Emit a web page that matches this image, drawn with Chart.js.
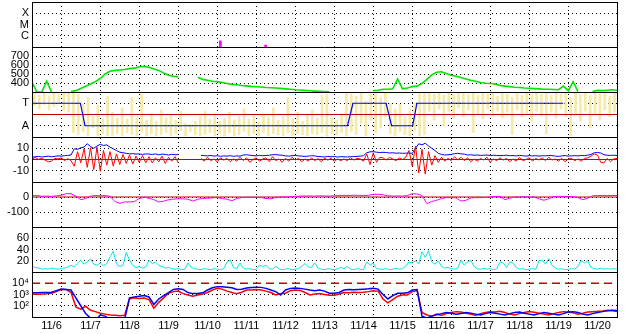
<!DOCTYPE html>
<html>
<head>
<meta charset="utf-8">
<script src="https://cdn.jsdelivr.net/npm/chart.js@4/dist/chart.umd.min.js"></script>
<style>
  html, body { margin: 0; padding: 0; background: #fff; }
  #marcoGrafica { width: 628px; height: 334px; }
</style>
</head>
<body>
<div id="marcoGrafica"><canvas id="grafica" width="628" height="334"></canvas></div>
<script>
// Eje de tiempo: dias desde 11/6 00:00
const dias = ['11/6', '11/7', '11/8', '11/9', '11/10', '11/11', '11/12', '11/13',
  '11/14', '11/15', '11/16', '11/17', '11/18', '11/19', '11/20'];
const paso3h = 1 / 8;
const paso2h = 1 / 12;

// Rayos X (fulguraciones)
const rayosXTiempo = [4.83, 5.99];
const rayosXFlujo = [3.5e-7, 1.5e-7];
const rayosXTicks = [1e-4, 1e-5, 1e-6];
const rayosXEtiquetas = ['X', 'M', 'C'];

// Velocidad del viento solar (cada 3 h)
const velocidad = [
  410, 300, 300, 420, 300, null, null, null,
  305, 315, 340, 365, 390, 415, 450, 500,
  530, 540, 545, 550, 560, 565, 580, 585,
  575, 555, 540, 510, 485, 475, 468, null,
  null, null, 465, 440, 430, 420, 415, 405,
  395, 385, 380, 372, 368, 362, 358, 355,
  350, 348, 345, 340, 335, 330, 325, 322,
  318, 314, 310, 307, 304, 302, null, null,
  null, null, null, null, null, null, 315, 320,
  330, 330, 335, 445, 335, 345, 360, 365,
  395, 440, 490, 520, 525, 505, 485, 475,
  460, 445, 430, 420, 405, 398, 395, 390,
  372, 365, 360, 352, 350, 345, 342, 338,
  335, 330, 330, 328, 325, 365, 315, 415,
  305, null, null, 305, 318, 315, 320, 325,
  320];
const velocidadTicks = [700, 600, 500, 400];

// Sector del campo (T / A)
const sectorTiempo = [0, 1.24, 1.36, 8.09, 8.23, 9.08, 9.22, 9.76, 9.87, 13.62];
const sectorValor = [1, 1, -1, -1, 1, 1, -1, -1, 1, 1];
const sectorTicks = [1, -1];
const sectorEtiquetas = ['T', 'A'];
// angulo phi (rango por intervalo de 3 h)
const phiMin = [
  0.8, 0.5, 0.9, 0.4, 0.7, 1.0, 0.4, 0.2,
  -1.6, -1.8, -1.5, -1.9, -1.2, -1.9, -1.7, -1.9,
  -1.9, -1.7, -1.9, -1.6, -1.8, -1.9, -1.5, -1.9,
  -1.7, -1.9, -1.8, -1.6, -1.9, -1.7, -1.4, -1.9,
  -1.5, -1.8, -1.9, -1.8, -1.6, -1.9, -1.7, -1.9,
  -1.6, -1.9, -1.8, -1.5, -1.9, -1.7, -1.9, -1.6,
  -1.9, -1.7, -1.8, -1.9, -1.6, -1.9, -1.7, -1.8,
  -1.9, -1.7, -1.8, -1.6, -1.9, -1.7, -1.8, -1.6,
  -1.9, -1.5, -1.8, -0.8, -1.9, -0.5, -1.6, -1.2,
  -0.2, -1.7, -1.9, -1.5, -1.8, -1.9, -1.4, -1.9,
  -1.8, 0.3, -0.5, 0.5, -1.0, 0.2, -0.3, 0.6,
  -0.2, 0.4, -1.6, 0.1, -0.4, 0.5, -0.1, 0.3,
  -0.3, 0.2, -1.8, 0.4, -0.2, 0.1, -0.6, 0.3,
  -0.1, -1.7, 0.2, -0.3, 0.5, -0.2, -1.9, 0.0,
  -0.6, 0.3, -1.2, 0.1, -0.5, 0.4, -0.2, 0.2];
const phiMax = [
  1.9, 1.7, 1.9, 1.6, 1.9, 1.8, 1.9, 1.9,
  1.9, 1.8, 0.9, 1.5, -0.2, 0.8, -0.4, 1.6,
  0.2, -0.3, 0.6, -0.4, 1.5, -0.2, 1.8, -0.5,
  0.1, -0.6, 0.4, -0.3, 0.0, -0.5, 0.3, -0.8,
  -0.9, -0.6, -0.2, 0.3, -0.4, 0.1, -0.6, -0.3,
  0.2, -0.5, -0.2, 0.5, -0.4, -0.1, -0.7, 0.0,
  -0.3, 0.6, -0.5, -0.2, 1.5, -0.4, 0.2, -0.6,
  -0.1, 0.4, -0.3, 1.7, 1.8, -0.3, -0.5, 0.1,
  1.9, 1.8, 1.6, 1.9, 1.2, 1.8, 1.9, 1.5,
  1.9, 1.0, 0.5, 0.9, -0.2, 0.3, 1.0, 1.9,
  1.9, 1.9, 1.8, 1.9, 1.7, 1.9, 1.8, 1.9,
  1.9, 1.8, 1.9, 1.7, 1.9, 1.8, 1.9, 1.6,
  1.9, 1.8, 1.5, 1.9, 1.7, 1.9, 1.8, 1.9,
  1.8, 1.9, 1.7, 1.9, 1.8, 1.9, 1.5, 1.9,
  1.8, 1.9, 1.7, 1.9, 1.8, 1.9, 1.6, 1.9];

// Campo magnetico Bt (azul) y Bz (rojo), cada 2 h
const bt = [
  2.0, 2.5, 2.8, 2.2, 2.6, 3.0, 2.4, 2.8, 3.2, 3.0, 3.4, 3.6,
  4.0, 9.5, 9.0, 10.5, 11.0, 14.0, 11.5, 10.0, 12.0, 13.5, 12.5, 13.0,
  11.0, 9.5, 8.0, 6.5, 6.0, 5.5, 5.0, 5.2, 4.8, 5.0, 4.5, 5.0,
  4.8, 4.5, 5.0, 4.2, 4.8, 4.5, 4.0, 4.6, 4.2, 4.4, null, null,
  null, null, null, null, 3.8, 3.5, 3.2, 3.6, 3.0, 3.4, 2.8, 3.2,
  3.0, 3.4, 2.8, 3.2, 3.0, 4.0, 4.2, 3.8, 3.5, 3.2, 3.6, 3.4,
  3.6, 3.8, 4.2, 4.4, 4.0, 3.8, 3.2, 3.0, 3.4, 3.6, 3.2, 3.0,
  2.8, 3.0, 3.4, 3.2, 2.6, 2.5, 2.2, 2.8, 2.4, 2.6, 2.2, 2.5,
  2.4, 2.2, 2.6, 2.5, 2.8, 3.0, 3.4, 6.0, 6.8, 7.0, 6.5, 6.2,
  6.4, 6.2, 5.8, 6.0, 5.6, 5.8, 5.5, 5.6, 5.8, 5.4, 10.0, 14.0,
  13.0, 14.5, 12.0, 10.0, 8.0, 5.5, 4.5, 4.0, 4.2, 4.5, 5.2, 5.5,
  5.0, 4.8, 4.0, 4.2, 3.8, 4.0, 3.6, 3.8, 4.0, 3.5, 3.8, 3.6,
  3.4, 3.6, 3.8, 3.4, 3.5, 3.2, 3.6, 3.4, 3.0, 3.5, 3.2, 3.4,
  3.0, 3.4, 3.2, 3.6, 3.4, 3.0, 2.8, 3.2, 3.5, 3.0, 3.2, 3.4,
  3.2, 3.6, 3.4, 3.8, 4.5, 6.0, 6.2, 5.8, 4.2, 3.8, 3.6, 3.8,
  3.6];
const bz = [
  0.5, 1.8, 0.2, 1.0, -0.5, -2.0, -1.5, 1.0, 0.5, 1.5, -1.0, 0.8,
  -1.0, -6.0, 7.0, -3.0, 9.5, -7.0, 10.5, -9.0, 11.0, -10.5, 8.0, -5.0,
  7.0, -6.0, 5.0, -4.5, 4.5, -3.5, 4.0, -4.0, 3.0, -2.5, 3.5, -3.0,
  2.5, -3.0, 1.5, -2.0, 3.0, -3.5, 2.0, -1.5, 2.5, -3.0, null, null,
  null, null, null, null, 1.0, -1.5, 2.0, -1.0, 0.5, -2.0, 1.5, -0.5,
  1.0, -2.0, 0.5, -1.5, 2.0, -1.0, 1.5, -2.5, 0.0, 1.5, -1.5, 0.5,
  1.5, -2.0, 2.5, -1.0, 0.5, -2.5, 1.0, -1.5, 2.0, -0.5, 1.0, -2.0,
  0.5, -1.5, 1.5, -1.0, 0.8, -2.0, 1.2, -0.5, 1.0, -1.5, 0.5, -1.0,
  0.5, -1.0, 1.5, -0.5, 1.0, 0.5, -1.5, 5.0, -4.5, 6.0, -2.5, 2.0,
  1.5, -0.5, 2.0, 0.5, -1.0, 1.5, 0.0, 2.0, 8.0, -6.0, 12.0, -12.0,
  9.0, -13.0, 7.0, -5.0, 3.5, -2.5, 2.0, -1.5, 1.0, -1.0, 2.5, -0.5,
  2.0, -1.0, 1.5, -2.0, 0.5, -1.5, 1.0, -0.5, 2.0, -2.5, 0.5, -1.0,
  1.5, -0.5, 1.0, -2.0, 0.5, -1.5, 2.0, -1.0, 0.0, 1.5, -1.5, 1.0,
  -0.5, 1.5, -1.0, 2.0, -0.5, 0.5, -1.5, 1.0, -2.0, 0.5, 1.0, -1.0,
  0.5, -1.5, 1.0, 1.5, 3.0, 5.0, 4.0, -2.5, -3.0, 1.0, -2.0, 0.5,
  1.0];
const campoTicks = [10, 0, -10];

// Indice Dst (cada 3 h)
const dst = [
  8, 10, 5, 6, 4, 8, 12, 22,
  22, 5, -18, -10, 6, 10, 8, 10,
  5, -30, -42, -33, -33, -30, -10, -2,
  -8, -18, -33, -28, -18, -14, -12, -12,
  -15, -27, -15, -10, -8, -6, -4, -10,
  -15, -25, -10, -4, -3, -2, -3, -4,
  -10, -12, -3, 0, 0, 2, 4, 6,
  7, 7, 6, 8, 7, 6, 8, 10,
  11, 10, 12, 11, 10, 11, 18, 18,
  15, 8, 6, 7, 6, 10, 22, 20,
  10, -44, -30, -22, -10, -4, -4, -6,
  -27, -22, -6, -4, -4, -3, 0, 4,
  4, -18, -8, 0, 0, 2, 0, 0,
  -12, -22, -12, 3, 4, 4, 3, 2,
  -5, -18, -8, 8, 10, 10, 9, 10,
  10];
const dstTicks = [0, -100];

// Densidad (cyan), cada 2 h
const densidad = [
  10, 8, 7, 5, 6, 5, 7, 6, 5, 6, 7, 9,
  12, 9, 15, 21, 14, 18, 23, 14, 12, 16, 11, 15,
  27, 37, 14, 10, 12, 35, 21, 12, 8, 10, 7, 9,
  21, 15, 18, 12, 10, 7, 8, 6, 5, 6, 4, 5,
  16, 8, 6, 5, 4, 6, 5, 4, 6, 5, 4, 6,
  18, 21, 8, 6, 16, 7, 5, 6, 4, 5, 12, 10,
  12, 6, 5, 10, 6, 4, 5, 6, 4, 5, 6, 10,
  15, 9, 8, 16, 7, 5, 4, 6, 5, 4, 6, 8,
  6, 10, 5, 4, 6, 5, 4, 18, 12, 16, 6, 5,
  5, 6, 4, 5, 7, 5, 6, 10, 18, 16, 20, 14,
  36, 26, 38, 18, 14, 20, 10, 7, 8, 6, 5, 7,
  21, 12, 18, 21, 10, 6, 5, 7, 5, 6, 4, 6,
  18, 16, 8, 18, 16, 8, 5, 6, 4, 5, 6, 5,
  20, 21, 14, 24, 12, 7, 5, 6, 4, 5, 6, 5,
  10, 21, 16, 20, 8, 6, 5, 7, 5, 6, 5, 6,
  5];
const densidadTicks = [60, 40, 20];

// Flujo de electrones (cada 3 h)
const electronesRojo = [
  1050, 1050, 1100, 1150, 1300, 1800, 2800, 2800,
  1500, 80, 50, 90, 40, 30, 22, 18,
  15, 14, 13, 14, 400, 500, 450, 480,
  350, 60, 200, 500, 1300, 1800, 2000, 1200,
  900, 700, 900, 1100, 1500, 2500, 3500, 3000,
  2000, 1500, 1200, 1600, 2500, 2500, 2800, 2500,
  2000, 1500, 900, 1200, 1300, 2200, 2500, 2300,
  1500, 900, 1100, 1200, 1000, 850, 850, 1100,
  1500, 1400, 1600, 1500, 1600, 1800, 2200, 2000,
  400, 180, 350, 700, 900, 900, 1800, 2200,
  25, 15, 12, 18, 14, 20, 25, 30,
  28, 22, 18, 14, 20, 25, 30, 28,
  32, 25, 18, 15, 20, 25, 30, 26,
  22, 18, 15, 20, 25, 30, 28, 24,
  18, 22, 28, 30, 32, 35, 40, 38,
  30];
const electronesAzul = [
  1400, 1400, 1500, 1500, 1600, 2200, 3000, 2800,
  2500, 500, 100, 20, 8, 5, 15, 12,
  6, 5, 5, 6, 500, 600, 700, 800,
  600, 130, 400, 800, 1500, 2800, 3200, 2800,
  1500, 1200, 1200, 1400, 2500, 4000, 5000, 4800,
  4500, 4000, 2800, 3000, 3800, 4200, 4500, 4300,
  3500, 2500, 1800, 900, 2500, 3500, 3800, 3500,
  3000, 2500, 2200, 2500, 2000, 1300, 1300, 1500,
  2500, 2800, 2600, 2800, 3000, 3200, 3500, 3000,
  1000, 400, 800, 1300, 1300, 1400, 2500, 2800,
  12, 8, 12, 16, 20, 25, 22, 18,
  20, 25, 22, 18, 15, 20, 25, 22,
  18, 15, 20, 25, 28, 22, 18, 15,
  20, 25, 22, 18, 15, 20, 28, 30,
  25, 18, 15, 20, 25, 30, 35, 40,
  38];
const electronesTicks = [1e4, 1e3, 1e2];
const electronesEtiquetas = ['10\u2074', '10\u00b3', '10\u00b2'];
const umbralElectrones = 1e4;

Chart.defaults.font.family = '"Liberation Sans", Arial, sans-serif';
Chart.defaults.font.size = 11;
Chart.defaults.color = '#000';

function serie(valores, paso, desfase) {
  return valores.map((v, i) => ({ x: i * paso + (desfase || 0), y: v }));
}
function horizontal(valor) {
  return [{ x: 0, y: valor }, { x: dias.length, y: valor }];
}

// Eje vertical de un panel apilado
function ejeY(min, max, ticks, etiquetas, peso, tipo, sinRejilla) {
  return {
    type: tipo || 'linear',
    position: 'left',
    stack: 'paneles',
    stackWeight: 1,
    weight: peso,
    min: min,
    max: max,
    afterBuildTicks: s => { s.ticks = ticks.map(v => ({ value: v })); },
    afterFit: s => { s.width = 32; s.paddingTop = 0; s.paddingBottom = 0; },
    ticks: {
      autoSkip: false,
      padding: 3,
      callback: (v, i) => etiquetas ? etiquetas[i] : String(ticks[i])
    },
    grid: {
      drawTicks: false,
      color: c => (sinRejilla && c.tick && sinRejilla.includes(c.tick.value)) ? 'rgba(0,0,0,0)' : '#000'
    },
    border: { display: false, dash: [1, 3] }
  };
}

const panelesY = ['yRayos', 'yVel', 'ySector', 'yCampo', 'yDst', 'yDens', 'yElec'];

// Marco y separadores de los paneles
const marco = {
  id: 'marco',
  afterDraw(chart) {
    const { ctx, chartArea: a } = chart;
    ctx.save();
    ctx.strokeStyle = '#000';
    ctx.lineWidth = 1;
    ctx.strokeRect(Math.round(a.left) + 0.5, Math.round(a.top) + 0.5,
      Math.round(a.right - a.left), Math.round(a.bottom - a.top));
    panelesY.forEach(id => {
      const s = chart.scales[id];
      if (s.bottom < a.bottom - 1) {
        const y = Math.round(s.bottom) + 0.5;
        ctx.beginPath();
        ctx.moveTo(a.left, y);
        ctx.lineTo(a.right, y);
        ctx.stroke();
      }
    });
    ctx.restore();
  }
};

const linea = { pointRadius: 0, borderWidth: 1, fill: false, tension: 0, spanGaps: false };

new Chart(document.getElementById('grafica'), {
  type: 'line',
  data: {
    datasets: [
      { type: 'bar', yAxisID: 'yRayos', data: rayosXTiempo.map((t, i) => ({ x: t, y: rayosXFlujo[i] })),
        backgroundColor: '#ff00ff', barThickness: 2, grouped: false, borderWidth: 0, order: 1 },
      { ...linea, yAxisID: 'yVel', data: serie(velocidad, paso3h), borderColor: '#00e600', borderWidth: 1.6, order: 1 },
      { ...linea, yAxisID: 'ySector', data: sectorTiempo.map((t, i) => ({ x: t, y: sectorValor[i] })),
        borderColor: '#0000ff', borderWidth: 1.2, order: 1 },
      { ...linea, yAxisID: 'ySector', data: horizontal(0), borderColor: '#c00000', order: 2 },
      { type: 'bar', yAxisID: 'ySector', data: phiMin.map((v, i) => ({ x: (i + 0.5) * paso3h, y: [v, phiMax[i]] })),
        backgroundColor: '#f7eaa6', barThickness: 2, grouped: false, borderWidth: 0, order: 10 },
      { ...linea, yAxisID: 'yCampo', data: serie(bz, paso2h), borderColor: '#ff0000', order: 1 },
      { ...linea, yAxisID: 'yCampo', data: serie(bt, paso2h), borderColor: '#0000ff', order: 2 },
      { ...linea, yAxisID: 'yCampo', data: horizontal(0), borderColor: '#c00000', order: 3 },
      { ...linea, yAxisID: 'yDst', data: serie(dst, paso3h), borderColor: '#ff00ff', order: 1 },
      { ...linea, yAxisID: 'yDst', data: horizontal(0), borderColor: '#c00000', order: 2 },
      { ...linea, yAxisID: 'yDens', data: serie(densidad, paso2h), borderColor: '#00e8e8', order: 1 },
      { ...linea, yAxisID: 'yElec', data: serie(electronesAzul, paso3h), borderColor: '#0000ff', borderWidth: 1.5, order: 1 },
      { ...linea, yAxisID: 'yElec', data: serie(electronesRojo, paso3h), borderColor: '#ff0000', borderWidth: 1.5, order: 2 },
      { ...linea, yAxisID: 'yElec', data: horizontal(umbralElectrones), borderColor: '#c00000',
        borderWidth: 1.5, borderDash: [8, 5], order: 3 }
    ]
  },
  options: {
    responsive: false,
    animation: false,
    events: [],
    layout: { padding: { top: 2, right: 11, left: 0, bottom: 0 } },
    plugins: { legend: { display: false }, tooltip: { enabled: false } },
    scales: {
      x: {
        type: 'linear',
        position: 'bottom',
        min: 0,
        max: dias.length,
        offset: false,
        afterBuildTicks: s => {
          const t = [];
          for (let k = 1; k < dias.length * 2; k++) t.push({ value: k / 2 });
          s.ticks = t;
        },
        afterFit: s => { s.height = 17; s.paddingLeft = 0; s.paddingRight = 0; },
        ticks: {
          autoSkip: false,
          maxRotation: 0,
          padding: 2,
          callback: v => Number.isInteger(v) ? '' : dias[Math.floor(v)]
        },
        grid: {
          drawTicks: false,
          color: c => (c.tick && Number.isInteger(c.tick.value)) ? '#000' : 'rgba(0,0,0,0)'
        },
        border: { display: false, dash: [1, 3] }
      },
      yRayos: ejeY(1e-7, 1e-3, rayosXTicks, rayosXEtiquetas, 7, 'logarithmic'),
      yVel: ejeY(300, 800, velocidadTicks, null, 6),
      ySector: ejeY(-2, 2, sectorTicks, sectorEtiquetas, 5),
      yCampo: ejeY(-20, 20, campoTicks, null, 4),
      yDst: ejeY(-200, 100, dstTicks, null, 3),
      yDens: ejeY(0, 80, densidadTicks, null, 2),
      yElec: ejeY(10, 1e5, electronesTicks, electronesEtiquetas, 1, 'logarithmic', [umbralElectrones])
    }
  },
  plugins: [marco]
});
</script>
</body>
</html>
